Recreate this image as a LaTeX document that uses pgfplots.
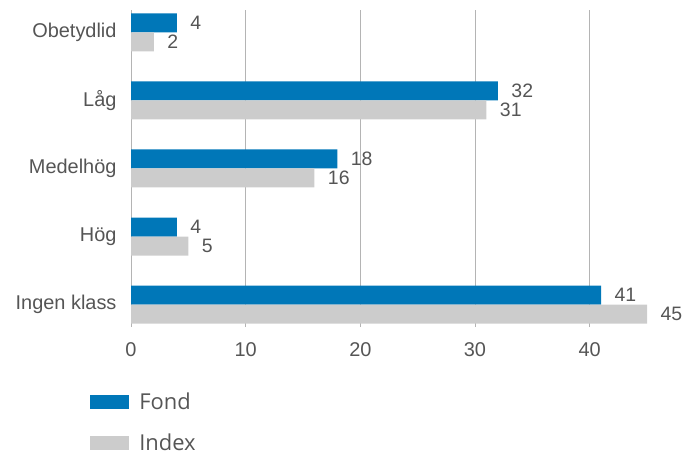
\documentclass[border=0pt]{standalone}
\usepackage{fontspec}
\setmainfont{Liberation Sans}
\newfontfamily\legfont{Open Sans}
\usepackage{pgfplots}
\pgfplotsset{compat=1.18}
\definecolor{fondblue}{HTML}{0077B8}
\definecolor{idxgrey}{HTML}{CCCCCC}
\definecolor{txt}{HTML}{555555}
\definecolor{gridc}{HTML}{B4B4B4}
\begin{document}
\begin{tikzpicture}
\useasboundingbox (0,0) rectangle (682bp,455bp);
\begin{axis}[
  at={(131bp,128bp)}, anchor=south west,
  scale only axis,
  width=516bp, height=317bp,
  xbar, bar width=19bp,
  xmin=0, xmax=45,
  ymin=-0.33, ymax=4.33,
  ytick={0,1,2,3,4},
  yticklabels={Ingen klass,Hög,Medelhög,Låg,Obetydlid},
  xtick={0,10,20,30,40},
  xmajorgrids, grid style={gridc, line width=1bp},
  axis line style={draw=none},
  major tick length=0pt,
  tick label style={font=\fontsize{20}{22}\selectfont, text=txt},
  /pgf/number format/assume math mode=true,
  yticklabel style={xshift=-11bp},
  xticklabel style={yshift=-12bp},
  clip=false,
  nodes near coords,
  nodes near coords style={font=\fontsize{19.5}{22}\selectfont, text=txt, anchor=west, xshift=10bp},
  legend style={at={(-0.085,-0.2)}, anchor=north west, draw=none, fill=none,
    font=\legfont\fontsize{22}{25}\selectfont, text=txt, row sep=23bp,
    legend cell align=left,
    nodes={inner sep=0pt},
    /tikz/every odd column/.append style={column sep=10bp}},
  legend image code/.code={\fill[#1] (0bp,-7bp) rectangle (39bp,7bp);},
]
\addplot[draw=none, fill=fondblue, bar shift=9.5bp] coordinates {(41,0) (4,1) (18,2) (32,3) (4,4)};
\addlegendentry{Fond}
\addplot[draw=none, fill=idxgrey, bar shift=-9.5bp] coordinates {(45,0) (5,1) (16,2) (31,3) (2,4)};
\addlegendentry{Index}
\end{axis}
\end{tikzpicture}
\end{document}
